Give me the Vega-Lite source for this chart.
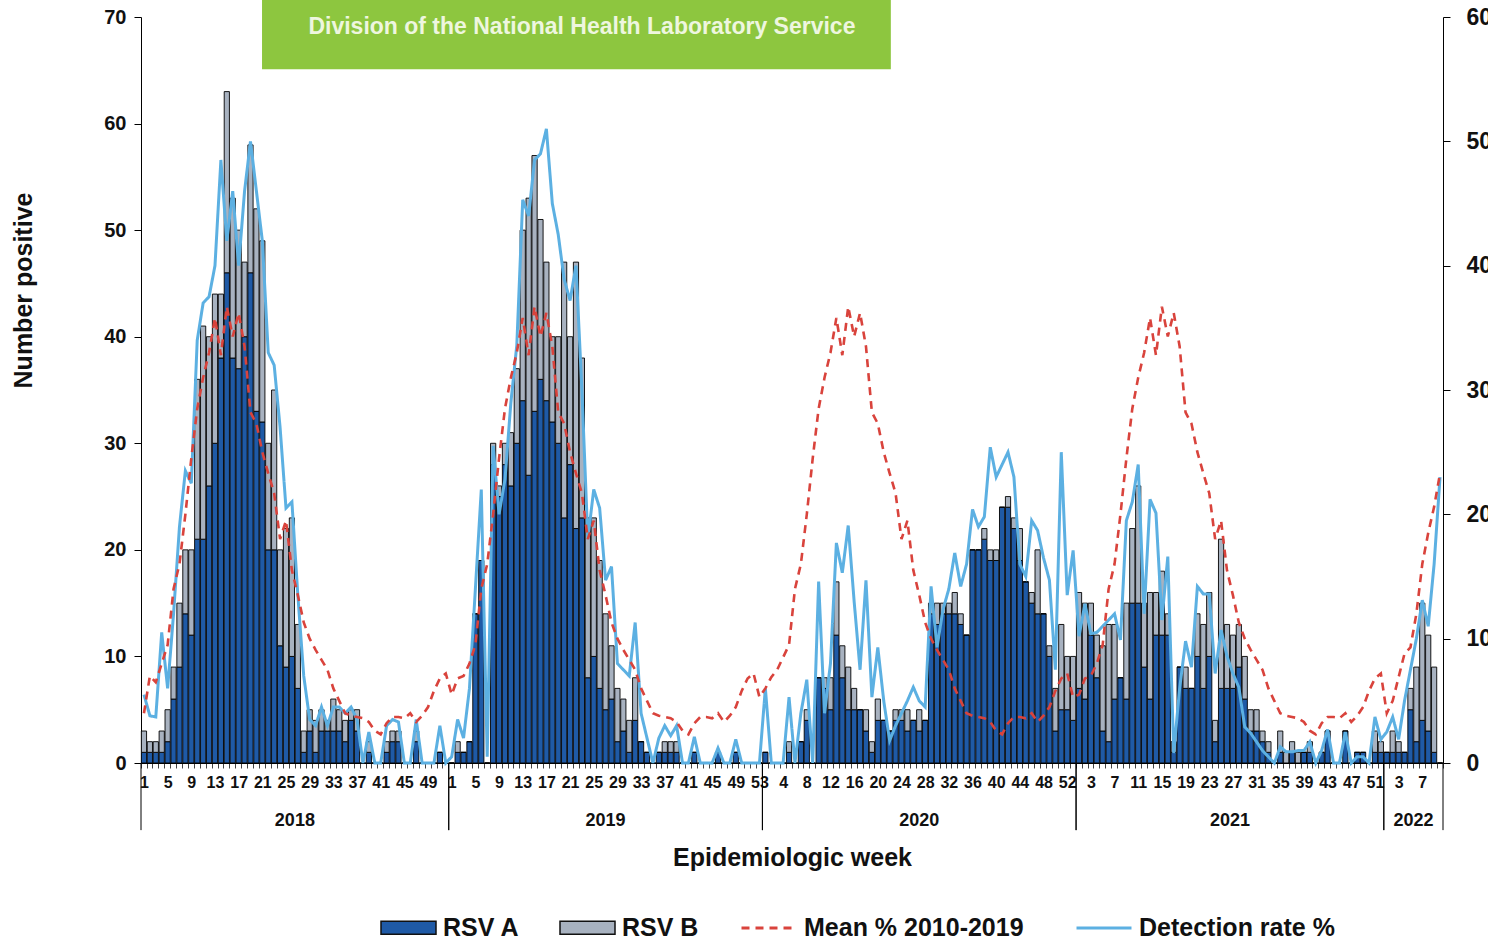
{
  "$schema": "https://vega.github.io/schema/vega-lite/v6.json",
  "width": 1302,
  "height": 746,
  "autosize": {"type": "none"},
  "padding": {"left": 141, "top": 17, "right": 45, "bottom": 177},
  "background": "#ffffff",
  "config": {
    "view": {"stroke": null},
    "font": "Liberation Sans",
    "scale": {"bandPaddingInner": 0.12, "bandPaddingOuter": 0.06},
    "axis": {"grid": false, "domainColor": "#000000", "tickColor": "#000000", "labelColor": "#111111", "titleColor": "#111111", "labelFont": "Liberation Sans", "titleFont": "Liberation Sans", "labelFontWeight": "bold", "titleFontWeight": "bold"},
    "legend": {"orient": "none", "legendY": 882, "direction": "horizontal", "title": null, "labelFontSize": 25, "labelFontWeight": "bold", "labelFont": "Liberation Sans", "labelColor": "#111111", "symbolSize": 3025, "labelOffset": 6, "labelLimit": 400, "symbolOpacity": 1}
  },
  "datasets": {
    "weeks": [
      {"i":0,"RSV A":1,"RSV B":2,"mean":4,"det":5.5},
      {"i":1,"RSV A":1,"RSV B":1,"mean":7,"det":3.8},
      {"i":2,"RSV A":1,"RSV B":1,"mean":6.5,"det":3.7},
      {"i":3,"RSV A":1,"RSV B":2,"mean":8,"det":10.5},
      {"i":4,"RSV A":2,"RSV B":3,"mean":9.5,"det":6},
      {"i":5,"RSV A":6,"RSV B":3,"mean":14,"det":12},
      {"i":6,"RSV A":9,"RSV B":6,"mean":16,"det":19},
      {"i":7,"RSV A":14,"RSV B":6,"mean":20,"det":23.5},
      {"i":8,"RSV A":12,"RSV B":8,"mean":24.5,"det":22.5},
      {"i":9,"RSV A":21,"RSV B":15,"mean":28.5,"det":34},
      {"i":10,"RSV A":21,"RSV B":20,"mean":31,"det":37},
      {"i":11,"RSV A":26,"RSV B":14,"mean":33,"det":37.5},
      {"i":12,"RSV A":30,"RSV B":14,"mean":35.8,"det":40},
      {"i":13,"RSV A":38,"RSV B":6,"mean":32.8,"det":48.5},
      {"i":14,"RSV A":46,"RSV B":17,"mean":36.7,"det":42},
      {"i":15,"RSV A":38,"RSV B":15,"mean":34.3,"det":46},
      {"i":16,"RSV A":37,"RSV B":13,"mean":36.2,"det":40},
      {"i":17,"RSV A":40,"RSV B":7,"mean":33.5,"det":46},
      {"i":18,"RSV A":46,"RSV B":12,"mean":28.2,"det":50},
      {"i":19,"RSV A":33,"RSV B":19,"mean":27.3,"det":46},
      {"i":20,"RSV A":32,"RSV B":17,"mean":25,"det":42},
      {"i":21,"RSV A":20,"RSV B":10,"mean":23.3,"det":33},
      {"i":22,"RSV A":20,"RSV B":15,"mean":21.7,"det":32},
      {"i":23,"RSV A":11,"RSV B":9,"mean":18,"det":27},
      {"i":24,"RSV A":9,"RSV B":13,"mean":19.5,"det":20.5},
      {"i":25,"RSV A":10,"RSV B":13,"mean":15.5,"det":21},
      {"i":26,"RSV A":7,"RSV B":6,"mean":13.5,"det":13.5},
      {"i":27,"RSV A":1,"RSV B":2,"mean":11.3,"det":7},
      {"i":28,"RSV A":3,"RSV B":2,"mean":10,"det":3.5},
      {"i":29,"RSV A":1,"RSV B":3,"mean":9.1,"det":3},
      {"i":30,"RSV A":3,"RSV B":2,"mean":8.3,"det":4.5},
      {"i":31,"RSV A":3,"RSV B":1,"mean":7.5,"det":3},
      {"i":32,"RSV A":3,"RSV B":3,"mean":6,"det":4.5},
      {"i":33,"RSV A":3,"RSV B":2,"mean":5,"det":4.5},
      {"i":34,"RSV A":2,"RSV B":2,"mean":4,"det":4},
      {"i":35,"RSV A":4,"RSV B":1,"mean":3.8,"det":4.5},
      {"i":36,"RSV A":3,"RSV B":2,"mean":3.7,"det":3.5},
      {"i":37,"RSV A":0,"RSV B":0,"mean":3.6,"det":0},
      {"i":38,"RSV A":1,"RSV B":1,"mean":3.3,"det":2.5},
      {"i":39,"RSV A":0,"RSV B":0,"mean":2.6,"det":0},
      {"i":40,"RSV A":0,"RSV B":0,"mean":2.3,"det":0},
      {"i":41,"RSV A":1,"RSV B":1,"mean":3.2,"det":3},
      {"i":42,"RSV A":2,"RSV B":1,"mean":3.7,"det":3.5},
      {"i":43,"RSV A":2,"RSV B":1,"mean":3.7,"det":3.3},
      {"i":44,"RSV A":0,"RSV B":0,"mean":3.6,"det":0},
      {"i":45,"RSV A":0,"RSV B":0,"mean":4,"det":0},
      {"i":46,"RSV A":2,"RSV B":1,"mean":3.3,"det":3.5},
      {"i":47,"RSV A":0,"RSV B":0,"mean":3.8,"det":0},
      {"i":48,"RSV A":0,"RSV B":0,"mean":4.5,"det":0},
      {"i":49,"RSV A":0,"RSV B":0,"mean":5.8,"det":0},
      {"i":50,"RSV A":1,"RSV B":0,"mean":6.8,"det":3},
      {"i":51,"RSV A":0,"RSV B":0,"mean":7.2,"det":0},
      {"i":52,"RSV A":0,"RSV B":0,"mean":5.5,"det":0.5},
      {"i":53,"RSV A":1,"RSV B":1,"mean":6.8,"det":3.5},
      {"i":54,"RSV A":1,"RSV B":0,"mean":7,"det":2},
      {"i":55,"RSV A":2,"RSV B":0,"mean":8,"det":6},
      {"i":56,"RSV A":14,"RSV B":0,"mean":9.5,"det":14},
      {"i":57,"RSV A":19,"RSV B":0,"mean":14,"det":22},
      {"i":58,"RSV A":0,"RSV B":0,"mean":16,"det":0.5},
      {"i":59,"RSV A":28,"RSV B":2,"mean":20,"det":25.5},
      {"i":60,"RSV A":25,"RSV B":1,"mean":24.5,"det":20},
      {"i":61,"RSV A":28,"RSV B":2,"mean":28.5,"det":22.8},
      {"i":62,"RSV A":26,"RSV B":5,"mean":31,"det":29},
      {"i":63,"RSV A":30,"RSV B":7,"mean":33,"det":33.6},
      {"i":64,"RSV A":34,"RSV B":16,"mean":35.8,"det":45.3},
      {"i":65,"RSV A":27,"RSV B":26,"mean":32.8,"det":44},
      {"i":66,"RSV A":33,"RSV B":24,"mean":36.7,"det":48.5},
      {"i":67,"RSV A":36,"RSV B":15,"mean":34.3,"det":49},
      {"i":68,"RSV A":34,"RSV B":13,"mean":36.2,"det":51},
      {"i":69,"RSV A":32,"RSV B":8,"mean":33.5,"det":45},
      {"i":70,"RSV A":30,"RSV B":10,"mean":28.2,"det":42.5},
      {"i":71,"RSV A":23,"RSV B":24,"mean":27.3,"det":38.9},
      {"i":72,"RSV A":28,"RSV B":12,"mean":25,"det":37.2},
      {"i":73,"RSV A":22,"RSV B":25,"mean":23.3,"det":40},
      {"i":74,"RSV A":23,"RSV B":15,"mean":21.7,"det":30},
      {"i":75,"RSV A":8,"RSV B":15,"mean":18,"det":18},
      {"i":76,"RSV A":10,"RSV B":13,"mean":19.5,"det":22},
      {"i":77,"RSV A":7,"RSV B":12,"mean":15.5,"det":20.5},
      {"i":78,"RSV A":5,"RSV B":9,"mean":13.5,"det":14.7},
      {"i":79,"RSV A":6,"RSV B":5,"mean":11.3,"det":15.8},
      {"i":80,"RSV A":2,"RSV B":5,"mean":10,"det":8},
      {"i":81,"RSV A":3,"RSV B":3,"mean":9.1,"det":7.5},
      {"i":82,"RSV A":1,"RSV B":3,"mean":8.3,"det":7},
      {"i":83,"RSV A":4,"RSV B":4,"mean":7.5,"det":11.3},
      {"i":84,"RSV A":2,"RSV B":0,"mean":6,"det":4},
      {"i":85,"RSV A":1,"RSV B":0,"mean":5,"det":2},
      {"i":86,"RSV A":0,"RSV B":0,"mean":4,"det":0},
      {"i":87,"RSV A":1,"RSV B":0,"mean":3.8,"det":2},
      {"i":88,"RSV A":1,"RSV B":1,"mean":3.7,"det":3},
      {"i":89,"RSV A":1,"RSV B":1,"mean":3.6,"det":2.2},
      {"i":90,"RSV A":1,"RSV B":1,"mean":3.3,"det":3},
      {"i":91,"RSV A":0,"RSV B":0,"mean":2.6,"det":0},
      {"i":92,"RSV A":0,"RSV B":0,"mean":2.3,"det":0},
      {"i":93,"RSV A":1,"RSV B":0,"mean":3.2,"det":2.1},
      {"i":94,"RSV A":0,"RSV B":0,"mean":3.7,"det":0},
      {"i":95,"RSV A":0,"RSV B":0,"mean":3.7,"det":0},
      {"i":96,"RSV A":0,"RSV B":0,"mean":3.6,"det":0},
      {"i":97,"RSV A":1,"RSV B":0,"mean":4,"det":1.2},
      {"i":98,"RSV A":0,"RSV B":0,"mean":3.3,"det":0},
      {"i":99,"RSV A":0,"RSV B":0,"mean":3.8,"det":0},
      {"i":100,"RSV A":1,"RSV B":0,"mean":4.5,"det":1.9},
      {"i":101,"RSV A":0,"RSV B":0,"mean":5.8,"det":0},
      {"i":102,"RSV A":0,"RSV B":0,"mean":6.8,"det":0},
      {"i":103,"RSV A":0,"RSV B":0,"mean":7.2,"det":0},
      {"i":104,"RSV A":0,"RSV B":0,"mean":5.3,"det":0},
      {"i":105,"RSV A":1,"RSV B":0,"mean":6,"det":6},
      {"i":106,"RSV A":0,"RSV B":0,"mean":6.9,"det":0},
      {"i":107,"RSV A":0,"RSV B":0,"mean":7.5,"det":0},
      {"i":108,"RSV A":0,"RSV B":0,"mean":8.5,"det":0},
      {"i":109,"RSV A":1,"RSV B":1,"mean":9.5,"det":5.3},
      {"i":110,"RSV A":0,"RSV B":0,"mean":14,"det":0},
      {"i":111,"RSV A":2,"RSV B":0,"mean":16,"det":4},
      {"i":112,"RSV A":4,"RSV B":1,"mean":20,"det":6.7},
      {"i":113,"RSV A":0,"RSV B":0,"mean":24.5,"det":0},
      {"i":114,"RSV A":8,"RSV B":0,"mean":28.5,"det":14.6},
      {"i":115,"RSV A":7,"RSV B":1,"mean":31,"det":4},
      {"i":116,"RSV A":5,"RSV B":3,"mean":33,"det":8},
      {"i":117,"RSV A":12,"RSV B":5,"mean":35.8,"det":17.7},
      {"i":118,"RSV A":8,"RSV B":3,"mean":32.8,"det":15.3},
      {"i":119,"RSV A":5,"RSV B":4,"mean":36.7,"det":19.1},
      {"i":120,"RSV A":5,"RSV B":2,"mean":34.3,"det":13},
      {"i":121,"RSV A":5,"RSV B":0,"mean":36.2,"det":7.5},
      {"i":122,"RSV A":3,"RSV B":2,"mean":33.5,"det":14.7},
      {"i":123,"RSV A":1,"RSV B":1,"mean":28.2,"det":5.3},
      {"i":124,"RSV A":4,"RSV B":2,"mean":27.3,"det":9.3},
      {"i":125,"RSV A":4,"RSV B":0,"mean":25,"det":5},
      {"i":126,"RSV A":3,"RSV B":0,"mean":23.3,"det":1.8},
      {"i":127,"RSV A":4,"RSV B":1,"mean":21.7,"det":3},
      {"i":128,"RSV A":4,"RSV B":1,"mean":18,"det":4},
      {"i":129,"RSV A":3,"RSV B":2,"mean":19.5,"det":5},
      {"i":130,"RSV A":4,"RSV B":0,"mean":15.5,"det":6.1},
      {"i":131,"RSV A":3,"RSV B":2,"mean":13.5,"det":5},
      {"i":132,"RSV A":4,"RSV B":0,"mean":11.3,"det":4.5},
      {"i":133,"RSV A":14,"RSV B":1,"mean":10,"det":14.2},
      {"i":134,"RSV A":13,"RSV B":2,"mean":9.1,"det":9.3},
      {"i":135,"RSV A":14,"RSV B":1,"mean":8.3,"det":12.3},
      {"i":136,"RSV A":14,"RSV B":1,"mean":7.5,"det":14},
      {"i":137,"RSV A":14,"RSV B":2,"mean":6,"det":16.9},
      {"i":138,"RSV A":13,"RSV B":1,"mean":5,"det":14.2},
      {"i":139,"RSV A":12,"RSV B":0,"mean":4,"det":16},
      {"i":140,"RSV A":20,"RSV B":0,"mean":3.8,"det":20.4},
      {"i":141,"RSV A":20,"RSV B":0,"mean":3.7,"det":19},
      {"i":142,"RSV A":21,"RSV B":1,"mean":3.6,"det":19.8},
      {"i":143,"RSV A":19,"RSV B":1,"mean":3.3,"det":25.4},
      {"i":144,"RSV A":19,"RSV B":1,"mean":2.6,"det":23},
      {"i":145,"RSV A":24,"RSV B":0,"mean":2.3,"det":24},
      {"i":146,"RSV A":24,"RSV B":1,"mean":3.2,"det":25},
      {"i":147,"RSV A":22,"RSV B":1,"mean":3.7,"det":23},
      {"i":148,"RSV A":19,"RSV B":3,"mean":3.7,"det":16},
      {"i":149,"RSV A":17,"RSV B":0,"mean":3.6,"det":15},
      {"i":150,"RSV A":15,"RSV B":1,"mean":4,"det":19.5},
      {"i":151,"RSV A":14,"RSV B":6,"mean":3.3,"det":18.7},
      {"i":152,"RSV A":14,"RSV B":0,"mean":3.8,"det":16.5},
      {"i":153,"RSV A":10,"RSV B":1,"mean":4.5,"det":14.7},
      {"i":154,"RSV A":3,"RSV B":4,"mean":5.8,"det":7.5},
      {"i":155,"RSV A":5,"RSV B":8,"mean":6.8,"det":25},
      {"i":156,"RSV A":5,"RSV B":5,"mean":7.2,"det":13.5},
      {"i":157,"RSV A":4,"RSV B":6,"mean":5.3,"det":17.1},
      {"i":158,"RSV A":7,"RSV B":9,"mean":5.5,"det":10.2},
      {"i":159,"RSV A":6,"RSV B":9,"mean":6.8,"det":12.8},
      {"i":160,"RSV A":12,"RSV B":3,"mean":7,"det":10.4},
      {"i":161,"RSV A":8,"RSV B":4,"mean":8,"det":10.5},
      {"i":162,"RSV A":3,"RSV B":8,"mean":9.5,"det":11},
      {"i":163,"RSV A":2,"RSV B":11,"mean":14,"det":11.5},
      {"i":164,"RSV A":6,"RSV B":7,"mean":16,"det":12},
      {"i":165,"RSV A":8,"RSV B":0,"mean":20,"det":9.9},
      {"i":166,"RSV A":6,"RSV B":9,"mean":24.5,"det":19.5},
      {"i":167,"RSV A":15,"RSV B":7,"mean":28.5,"det":21},
      {"i":168,"RSV A":15,"RSV B":11,"mean":31,"det":24},
      {"i":169,"RSV A":9,"RSV B":6,"mean":33,"det":12},
      {"i":170,"RSV A":6,"RSV B":10,"mean":35.8,"det":21.2},
      {"i":171,"RSV A":12,"RSV B":4,"mean":32.8,"det":20.1},
      {"i":172,"RSV A":12,"RSV B":6,"mean":36.7,"det":11.5},
      {"i":173,"RSV A":12,"RSV B":2,"mean":34.3,"det":16.6},
      {"i":174,"RSV A":1,"RSV B":1,"mean":36.2,"det":0.8},
      {"i":175,"RSV A":9,"RSV B":0,"mean":33.5,"det":6},
      {"i":176,"RSV A":7,"RSV B":2,"mean":28.2,"det":9.8},
      {"i":177,"RSV A":7,"RSV B":0,"mean":27.3,"det":7.7},
      {"i":178,"RSV A":10,"RSV B":4,"mean":25,"det":14.2},
      {"i":179,"RSV A":7,"RSV B":6,"mean":23.3,"det":13.6},
      {"i":180,"RSV A":10,"RSV B":6,"mean":21.7,"det":13.6},
      {"i":181,"RSV A":2,"RSV B":2,"mean":18,"det":7.2},
      {"i":182,"RSV A":7,"RSV B":14,"mean":19.5,"det":10.7},
      {"i":183,"RSV A":7,"RSV B":6,"mean":15.5,"det":8.6},
      {"i":184,"RSV A":7,"RSV B":5,"mean":13.5,"det":7.2},
      {"i":185,"RSV A":9,"RSV B":4,"mean":11.3,"det":6.1},
      {"i":186,"RSV A":6,"RSV B":4,"mean":10,"det":2.9},
      {"i":187,"RSV A":3,"RSV B":2,"mean":9.1,"det":2.4},
      {"i":188,"RSV A":3,"RSV B":2,"mean":8.3,"det":1.7},
      {"i":189,"RSV A":2,"RSV B":1,"mean":7.5,"det":1},
      {"i":190,"RSV A":1,"RSV B":1,"mean":6,"det":0.5},
      {"i":191,"RSV A":0,"RSV B":0,"mean":5,"det":0},
      {"i":192,"RSV A":1,"RSV B":2,"mean":4,"det":1.3},
      {"i":193,"RSV A":0,"RSV B":1,"mean":3.8,"det":0.9},
      {"i":194,"RSV A":1,"RSV B":1,"mean":3.7,"det":0.9},
      {"i":195,"RSV A":0,"RSV B":1,"mean":3.6,"det":1},
      {"i":196,"RSV A":1,"RSV B":0,"mean":3.3,"det":1},
      {"i":197,"RSV A":1,"RSV B":1,"mean":2.6,"det":1.7},
      {"i":198,"RSV A":0,"RSV B":0,"mean":2.3,"det":0},
      {"i":199,"RSV A":1,"RSV B":0,"mean":3.2,"det":1},
      {"i":200,"RSV A":3,"RSV B":0,"mean":3.7,"det":2.7},
      {"i":201,"RSV A":0,"RSV B":0,"mean":3.7,"det":0},
      {"i":202,"RSV A":0,"RSV B":0,"mean":3.6,"det":0},
      {"i":203,"RSV A":3,"RSV B":0,"mean":4,"det":2.5},
      {"i":204,"RSV A":0,"RSV B":0,"mean":3.3,"det":0},
      {"i":205,"RSV A":1,"RSV B":0,"mean":3.8,"det":0.5},
      {"i":206,"RSV A":1,"RSV B":0,"mean":4.5,"det":0.5},
      {"i":207,"RSV A":0,"RSV B":0,"mean":5.8,"det":0},
      {"i":208,"RSV A":1,"RSV B":2,"mean":6.8,"det":3.7},
      {"i":209,"RSV A":1,"RSV B":1,"mean":7.2,"det":1.9},
      {"i":210,"RSV A":1,"RSV B":0,"mean":4,"det":2.5},
      {"i":211,"RSV A":1,"RSV B":2,"mean":5,"det":3.7},
      {"i":212,"RSV A":1,"RSV B":1,"mean":6.9,"det":1.9},
      {"i":213,"RSV A":1,"RSV B":0,"mean":8.8,"det":5},
      {"i":214,"RSV A":5,"RSV B":2,"mean":9.3,"det":7.5},
      {"i":215,"RSV A":2,"RSV B":7,"mean":12,"det":10},
      {"i":216,"RSV A":4,"RSV B":11,"mean":16,"det":13.1},
      {"i":217,"RSV A":3,"RSV B":9,"mean":18.5,"det":11},
      {"i":218,"RSV A":1,"RSV B":8,"mean":20.6,"det":16},
      {"i":219,"RSV A":0,"RSV B":0,"mean":23.3,"det":23}
    ],
    "years": [
      {"year":"2018","bound":0},{"year":"2018","bound":52},
      {"year":"2019","bound":52},{"year":"2019","bound":105},
      {"year":"2020","bound":105},{"year":"2020","bound":158},
      {"year":"2021","bound":158},{"year":"2021","bound":210},
      {"year":"2022","bound":210},{"year":"2022","bound":220}
    ]
  },
  "resolve": {"scale": {"x": "independent", "y": "independent"}},
  "layer": [
    {
      "data": {"name": "weeks"},
      "transform": [{"fold": ["RSV A", "RSV B"], "as": ["series", "count"]}],
      "mark": {"type": "bar", "stroke": "#000000", "strokeWidth": 0.9},
      "encoding": {
        "x": {
          "field": "i", "type": "ordinal",
          "axis": {
            "title": "Epidemiologic week", "titleFontSize": 25, "titleY": 94, "titleBaseline": "middle",
            "labelExpr": "datum.value % 4 != 0 ? '' : '' + (datum.value < 52 ? datum.value + 1 : datum.value < 105 ? datum.value - 51 : datum.value < 158 ? datum.value - 104 : datum.value < 210 ? datum.value - 157 : datum.value - 209)",
            "labelAngle": 0, "labelOverlap": false, "labelFontSize": 16, "labelPadding": 6,
            "tickBand": "extent", "tickSize": 5, "tickColor": "#444444"
          }
        },
        "y": {
          "field": "count", "type": "quantitative", "stack": "zero",
          "scale": {"domain": [0, 70]},
          "axis": {
            "title": "Number positive", "titleFontSize": 25, "titleX": -118, "titleY": 273, "titleBaseline": "middle",
            "values": [0, 10, 20, 30, 40, 50, 60, 70], "labelFontSize": 20, "tickSize": 7, "labelPadding": 8
          }
        },
        "color": {
          "field": "series", "type": "nominal",
          "scale": {"domain": ["RSV A", "RSV B"], "range": ["#1f5aa6", "#a8b2c0"]},
          "legend": {
            "legendX": 239, "columns": 2, "columnPadding": 37,
            "symbolType": "M-1,-0.24H1V0.24H-1Z", "symbolStrokeColor": "#111111", "symbolStrokeWidth": 1.5
          }
        },
        "order": {"field": "series", "sort": "ascending"}
      }
    },
    {
      "data": {"name": "weeks"},
      "mark": {"type": "line", "strokeWidth": 3, "interpolate": "linear", "color": "#5cb0e2"},
      "encoding": {
        "x": {"field": "i", "type": "ordinal", "axis": null},
        "y": {
          "field": "det", "type": "quantitative", "scale": {"domain": [0, 60]},
          "axis": {"orient": "right", "title": null, "values": [0, 10, 20, 30, 40, 50, 60], "labelFontSize": 23, "tickSize": 7, "labelPadding": 16}
        },
        "strokeDash": {
          "datum": "Detection rate %", "type": "nominal",
          "scale": {"domain": ["Detection rate %"], "range": [[1, 0]]},
          "legend": {"legendX": 934, "symbolType": "stroke", "symbolStrokeColor": "#5cb0e2", "symbolStrokeWidth": 3}
        }
      }
    },
    {
      "data": {"name": "weeks"},
      "mark": {"type": "line", "strokeWidth": 2.6, "strokeDash": [8, 6], "interpolate": "linear"},
      "encoding": {
        "x": {"field": "i", "type": "ordinal", "axis": null},
        "y": {"field": "mean", "type": "quantitative", "scale": {"domain": [0, 60]}, "axis": null},
        "stroke": {
          "datum": "Mean %  2010-2019", "type": "nominal",
          "scale": {"domain": ["Mean %  2010-2019"], "range": ["#d9433c"]},
          "legend": {"legendX": 599, "symbolType": "stroke", "symbolDash": [8, 6], "symbolStrokeWidth": 3}
        }
      }
    },
    {
      "data": {"name": "years"},
      "mark": {"type": "rule", "color": "#000000", "strokeWidth": 1},
      "encoding": {
        "x": {"field": "bound", "type": "quantitative", "scale": {"domain": [0, 220]}, "axis": null},
        "y": {"datum": 0, "type": "quantitative", "scale": {"domain": [0, 70]}, "axis": null},
        "y2": {"datum": -6.3}
      }
    },
    {
      "data": {"name": "years"},
      "mark": {"type": "text", "fontSize": 18, "fontWeight": "bold", "color": "#111111", "baseline": "middle", "align": "center"},
      "encoding": {
        "x": {"aggregate": "mean", "field": "bound", "type": "quantitative", "scale": {"domain": [0, 220]}, "axis": null},
        "y": {"datum": -5.4, "type": "quantitative", "scale": {"domain": [0, 70]}, "axis": null},
        "text": {"field": "year", "type": "nominal"}
      }
    },
    {
      "data": {"values": [{"label": "Division of the National Health Laboratory Service"}]},
      "mark": {"type": "rect", "color": "#8dc63f", "clip": false},
      "encoding": {
        "x": {"datum": 20.45, "type": "quantitative", "scale": {"domain": [0, 220]}, "axis": null},
        "x2": {"datum": 126.7},
        "y": {"datum": 65.1, "type": "quantitative", "scale": {"domain": [0, 70]}, "axis": null},
        "y2": {"datum": 71.6}
      }
    },
    {
      "data": {"values": [{"label": "Division of the National Health Laboratory Service"}]},
      "mark": {"type": "text", "fontSize": 23, "fontWeight": "bold", "color": "#eef6df", "baseline": "middle", "align": "center"},
      "encoding": {
        "x": {"datum": 74.5, "type": "quantitative", "scale": {"domain": [0, 220]}, "axis": null},
        "y": {"datum": 69.05, "type": "quantitative", "scale": {"domain": [0, 70]}, "axis": null},
        "text": {"field": "label", "type": "nominal"}
      }
    }
  ]
}
